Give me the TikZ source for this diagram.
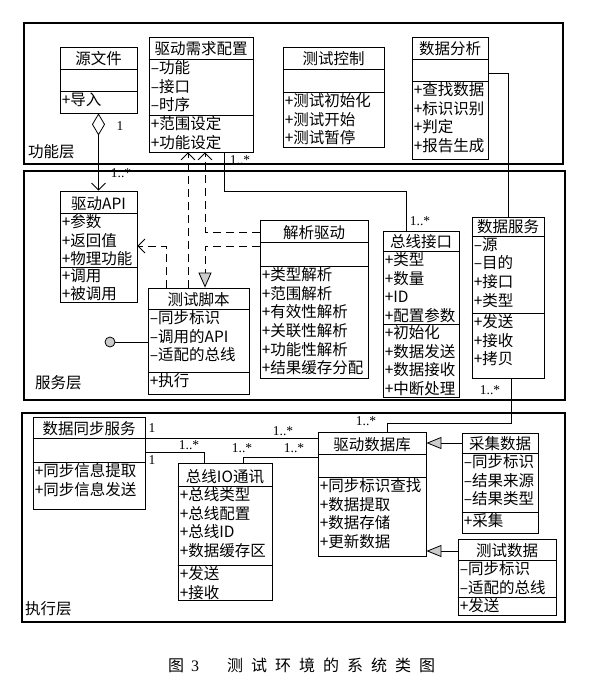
\documentclass[tikz,border=0pt]{standalone}
\usepackage{fontspec}
\setmainfont{Noto Sans CJK SC}
\newfontfamily\latinfont{Liberation Serif}
\usetikzlibrary{arrows.meta,fit}

\tikzset{
  classbox/.style={draw, line width=0.8pt, inner sep=0pt},
  classtitle/.style={anchor=base, yshift=4pt, inner sep=0pt},
  members/.style={anchor=north west, align=left, inner xsep=2pt, inner ysep=1.2pt},
  layer/.style={draw, line width=1.2pt, inner sep=0pt},
  layername/.style={anchor=west, inner sep=0pt},
  mult/.style={font=\latinfont\fontsize{13.5}{13.5}\selectfont, inner sep=0pt},
  assoc/.style={draw, line width=0.8pt},
  dep/.style={draw, line width=0.8pt, dash pattern=on 8pt off 5pt, -{Straight Barb[length=7pt,width=14pt]}},
  real/.style={draw, line width=0.8pt, dash pattern=on 8pt off 5pt, -{Triangle[open,length=15pt,width=13pt,fill=gray!40]}},
  gen/.style={draw, line width=0.8pt, -{Triangle[open,length=15pt,width=12pt,fill=gray!40]}}
}

% #1 name, #2 top left, #3 bottom right, #4 header line, #5 attribute line,
% #6 title, #7 attributes, #8 operations
\newcommand{\umlclass}[8]{%
  \node[classbox, fit={(#2) (#3)}] (#1) {};
  \draw[line width=0.8pt] (#1.west |- 0,#4) -- (#1.east |- 0,#4)
    (#1.west |- 0,#5) -- (#1.east |- 0,#5);
  \node[classtitle] at (#1.north |- 0,#4) {#6};
  \node[members] at (#1.west |- 0,#4) {#7};
  \node[members] at (#1.west |- 0,#5) {#8};
}

\begin{document}
\begin{tikzpicture}[x=1pt, y=-1pt, font=\fontsize{15.5}{18.7}\selectfont]
\useasboundingbox (0,0) rectangle (589,682);

% layers
\node[layer, fit={(24,23) (563,164)}] (funclayer) {};
\node[layer, fit={(24,171) (565,400)}] (servlayer) {};
\node[layer, fit={(22,413) (565,622)}] (execlayer) {};
\node[layername] (funcname) at (28,152) {功能层};
\node[layername] (servname) at (35,383) {服务层};
\node[layername] (execname) at (25,609) {执行层};

% function layer
\umlclass{src}{60,47}{137,113}{69}{91}{源文件}{}{+导入}
\umlclass{req}{149,37}{253,152}{59}{115}{驱动需求配置}{–功能\\–接口\\–时序}{+范围设定\\+功能设定}
\umlclass{ctrl}{283,47}{384,147}{69}{92}{测试控制}{}{+测试初始化\\+测试开始\\+测试暂停}
\umlclass{ana}{412,37}{488,159}{59}{81}{数据分析}{}{+查找数据\\+标识识别\\+判定\\+报告生成}

% service layer
\umlclass{api}{60,191}{137,302}{213}{267}{驱动API}{+参数\\+返回值\\+物理功能}{+调用\\+被调用}
\umlclass{script}{148,288}{249,394}{309}{372}{测试脚本}{–同步标识\\–调用的API\\–适配的总线}{+执行}
\umlclass{parse}{260,220}{368,378}{242}{266}{解析驱动}{}{+类型解析\\+范围解析\\+有效性解析\\+关联性解析\\+功能性解析\\+结果缓存分配}
\umlclass{bus}{383,231}{459,397}{251}{324}{总线接口}{+类型\\+数量\\+ID\\+配置参数}{+初始化\\+数据发送\\+数据接收\\+中断处理}
\umlclass{svc}{472,217}{544,378}{236}{313}{数据服务}{–源\\–目的\\+接口\\+类型}{+发送\\+接收\\+拷贝}
\node[circle, draw, line width=0.8pt, fill=gray!40, minimum size=10pt, inner sep=0pt] (iface) at (110,342) {};

% execution layer
\umlclass{sync}{33,417}{145,509}{438}{462}{数据同步服务}{}{+同步信息提取\\+同步信息发送}
\umlclass{io}{178,463}{272,600}{486}{565}{总线IO通讯}{+总线类型\\+总线配置\\+总线ID\\+数据缓存区}{+发送\\+接收}
\umlclass{db}{318,432}{426,556}{454}{477}{驱动数据库}{}{+同步标识查找\\+数据提取\\+数据存储\\+更新数据}
\umlclass{acq}{462,433}{538,533}{453}{512}{采集数据}{–同步标识\\–结果来源\\–结果类型}{+采集}
\umlclass{tdata}{458,539}{556,615}{560}{597}{测试数据}{–同步标识\\–适配的总线}{+发送}

% connectors
\draw[assoc, {Diamond[open,length=22pt,width=13pt]}-{Straight Barb[length=7pt,width=14pt]}] (src.south) -- (api.north);
\draw[dep] (script.north -| 188,0) -- (req.south -| 188,0);
\draw[dep] (parse.west |- 0,232) -| (req.south -| 205,0);
\draw[real] (parse.west |- 0,246) -| (script.north -| 205,0);
\draw[dep] (script.north -| 166,0) |- (api.east |- 0,246);
\draw[assoc] (iface) -- (script.west |- iface);
\draw[assoc] (req.south -| 224,0) |- (406,191) -- (bus.north -| 406,0);
\draw[assoc] (ana.east |- 0,73) -| (svc.north);
\draw[assoc] (svc.south -| 511,0) |- (387,423) -- (db.north -| 387,0);
\draw[assoc] (sync.east |- 0,438) -- (db.west |- 0,438);
\draw[assoc] (sync.east |- 0,452) -| (io.north -| 204,0);
\draw[assoc] (io.north -| 243,0) |- (db.west |- 0,457);
\draw[gen] (acq.west |- 0,443) -- (db.east |- 0,443);
\draw[gen] (tdata.west |- 0,551) -- (db.east |- 0,551);

% multiplicities
\node[mult] (m1) at (120,126) {1};
\node[mult] (m2) at (121,173) {1..*};
\node[mult] (m3) at (240,160) {1..*};
\node[mult] (m4) at (420,221) {1..*};
\node[mult] (m5) at (490,390) {1..*};
\node[mult] (m6) at (366,421) {1..*};
\node[mult] (m7) at (152,428) {1};
\node[mult] (m8) at (283,431) {1..*};
\node[mult] (m9) at (152,460) {1};
\node[mult] (m10) at (189,445) {1..*};
\node[mult] (m11) at (242,448) {1..*};
\node[mult] (m12) at (294,448) {1..*};

% caption
\node[anchor=west, inner sep=0pt, font=\fontsize{16}{16}\selectfont] (caption) at (168,665)
  {图\hspace{7pt}{\latinfont 3}\hspace{28pt}测\hspace{8pt}试\hspace{8pt}环\hspace{8pt}境\hspace{8pt}的\hspace{8pt}系\hspace{8pt}统\hspace{8pt}类\hspace{8pt}图};
\end{tikzpicture}
\end{document}
